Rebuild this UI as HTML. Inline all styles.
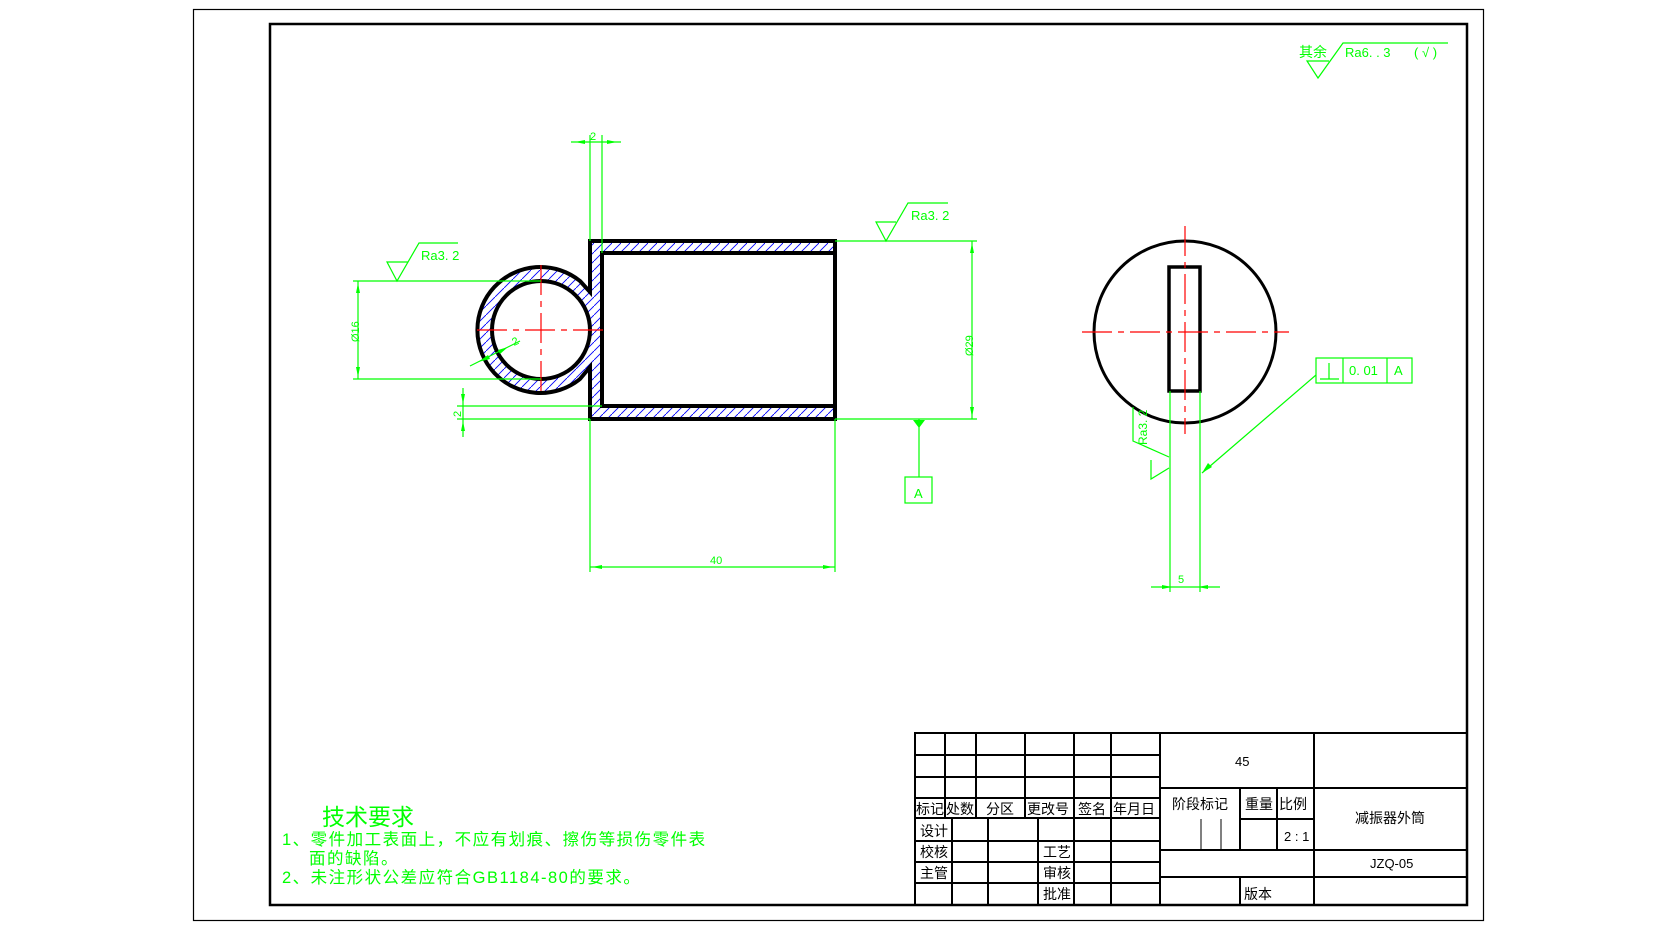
<!DOCTYPE html>
<html><head><meta charset="utf-8"><style>
html,body{margin:0;padding:0;background:#fff;}
svg{display:block;}
text{font-family:"Liberation Sans","Noto Sans CJK SC",sans-serif;}
</style></head><body>
<svg width="1677" height="930" viewBox="0 0 1677 930" xmlns="http://www.w3.org/2000/svg">
<defs>
<pattern id="h" patternUnits="userSpaceOnUse" width="9" height="9">
<line x1="0" y1="9" x2="9" y2="0" stroke="#0000ff" stroke-width="0.9"/>
</pattern>
</defs>
<rect x="193.5" y="9.5" width="1290" height="911" fill="none" stroke="#000" stroke-width="1.2"/>
<rect x="270" y="24" width="1197" height="881" fill="none" stroke="#000" stroke-width="2.5"/>

<!-- LEFT VIEW -->
<path fill="url(#h)" fill-rule="evenodd" d="M590,241 L835,241 L835,419 L590,419 L590,367 L580,379 A63,63 0 1 1 580,281 L590,292 Z M602,253 L835,253 L835,406 L602,406 Z M541,281 A49,49 0 1 0 541,379 A49,49 0 1 0 541,281 Z"/>
<g fill="none" stroke="#000" stroke-width="4">
<path d="M590,241 L835,241 L835,419 L590,419 L590,367 L580,379 A63,63 0 1 1 580,281 L590,292 Z"/>
<circle cx="541" cy="330" r="49"/>
<path d="M835,253 L602,253 L602,406 L835,406"/>
</g>
<g stroke="#ff0000" stroke-width="1.2" stroke-dasharray="30,6,6,6">
<line x1="541" y1="265" x2="541" y2="393"/>
<line x1="477" y1="330" x2="605" y2="330"/>
</g>
<g stroke="#00ff00" stroke-width="1.2" fill="none">
<line x1="590" y1="135" x2="590" y2="241"/><line x1="602" y1="135" x2="602" y2="253"/>
<line x1="571" y1="142" x2="621" y2="142"/>
<line x1="353" y1="281" x2="541" y2="281"/><line x1="353" y1="379" x2="541" y2="379"/>
<line x1="358" y1="281" x2="358" y2="379"/>
<polyline points="408,262 387,262 397,281 419,243 458,243"/>
<line x1="457" y1="406" x2="602" y2="406"/><line x1="457" y1="419" x2="590" y2="419"/>
<line x1="463" y1="388" x2="463" y2="437"/>
<line x1="470" y1="366" x2="520" y2="341"/>
<line x1="835" y1="241" x2="977" y2="241"/><line x1="835" y1="419" x2="977" y2="419"/>
<line x1="972" y1="241" x2="972" y2="419"/>
<polyline points="896,222 876,222 886,241 908,203 948,203"/>
<line x1="919" y1="419" x2="919" y2="477"/>
<rect x="905" y="477" width="27" height="26"/>
<line x1="590" y1="419" x2="590" y2="572"/><line x1="835" y1="419" x2="835" y2="572"/>
<line x1="590" y1="567" x2="835" y2="567"/>
</g>
<g fill="#00ff00">
<polygon points="575,142 585,140 585,144"/><polygon points="617,142 607,140 607,144"/>
<polygon points="358,283 356,293 360,293"/><polygon points="358,377 356,367 360,367"/>
<polygon points="463,404 461,394 465,394"/><polygon points="463,421 461,431 465,431"/>
<polygon points="972,243 970,253 974,253"/><polygon points="972,417 970,407 974,407"/>
<polygon points="913,420 925,420 919,428"/>
<polygon points="592,567 602,565 602,569"/><polygon points="833,567 823,565 823,569"/>
<polygon points="478,362 488,355 490,359"/><polygon points="508,347 498,350 500,354"/>
</g>
<g fill="#00ff00" font-family="Liberation Mono" font-size="12">
<text x="590" y="140" font-size="11">2</text>
<text x="421" y="260" font-size="13">Ra3. 2</text>
<text x="911" y="220" font-size="13">Ra3. 2</text>
<text x="710" y="564" font-size="11">40</text>
<text x="914" y="498" font-size="13">A</text>
<text transform="translate(359,342) rotate(-90)" font-size="11">Ø16</text>
<text transform="translate(973,356) rotate(-90)" font-size="11">Ø29</text>
<text transform="translate(461,417) rotate(-90)" font-size="11">2</text>
<text transform="translate(514,346) rotate(-25)" font-size="11">2</text>
</g>

<!-- RIGHT VIEW -->
<g transform="translate(-4,-1)">
<circle cx="1189" cy="333" r="91" fill="none" stroke="#000" stroke-width="3"/>
<rect x="1173" y="268" width="31" height="124" fill="none" stroke="#000" stroke-width="3.5"/>
<g stroke="#ff0000" stroke-width="1.2" stroke-dasharray="30,6,6,6">
<line x1="1086" y1="333" x2="1293" y2="333"/>
<line x1="1189" y1="227" x2="1189" y2="435"/>
</g>
<g stroke="#00ff00" stroke-width="1.2" fill="none">
<line x1="1174" y1="392" x2="1174" y2="593"/><line x1="1204" y1="392" x2="1204" y2="593"/>
<line x1="1155" y1="588" x2="1224" y2="588"/>
<polyline points="1137,408 1137,442 1173,458"/>
<polyline points="1173,469 1155,480 1155,461"/>
<line x1="1320" y1="376" x2="1206" y2="474"/>
<rect x="1320" y="359" width="96" height="25"/>
<line x1="1347" y1="359" x2="1347" y2="384"/><line x1="1391" y1="359" x2="1391" y2="384"/>
<line x1="1324" y1="380" x2="1343" y2="380"/><line x1="1333" y1="364" x2="1333" y2="380"/>
<polyline points="1333,62 1311,62 1322,79 1347,44 1452,44"/>
</g>
<g fill="#00ff00">
<polygon points="1176,588 1166,586 1166,590"/><polygon points="1202,588 1212,586 1212,590"/>
<polygon points="1206,474 1212,464 1216,468"/>
</g>
<g fill="#00ff00" font-family="Liberation Mono" font-size="13">
<text x="1182" y="584" font-size="11">5</text>
<text transform="translate(1151,446) rotate(-90)" font-size="12">Ra3. 2</text>
<text x="1353" y="376">0. 01</text>
<text x="1398" y="376">A</text>
<text x="1303" y="58" font-size="14" font-family="Liberation Sans, Noto Sans CJK SC">其余</text>
<text x="1349" y="58">Ra6. . 3</text>
<text x="1418" y="58">( √ )</text>
</g>
</g>

<g fill="#00ff00">
<text x="322" y="825" font-size="23">技术要求</text>
<text x="282" y="845" font-size="16.5" letter-spacing="1.5">1、零件加工表面上，不应有划痕、擦伤等损伤零件表</text>
<text x="309" y="864" font-size="16.5" letter-spacing="1.5">面的缺陷。</text>
<text x="282" y="883" font-size="16.5" letter-spacing="1.5">2、未注形状公差应符合GB1184-80的要求。</text>
</g>

<g stroke="#000" stroke-width="2" fill="none">
<rect x="915" y="733" width="552" height="172"/>
<line x1="915" y1="755" x2="1160" y2="755"/>
<line x1="915" y1="777" x2="1160" y2="777"/>
<line x1="915" y1="798" x2="1160" y2="798"/>
<line x1="915" y1="818" x2="1160" y2="818"/>
<line x1="915" y1="841" x2="1160" y2="841"/>
<line x1="915" y1="862" x2="1160" y2="862"/>
<line x1="915" y1="883" x2="1160" y2="883"/>
<line x1="945" y1="733" x2="945" y2="818"/>
<line x1="976" y1="733" x2="976" y2="818"/>
<line x1="1025" y1="733" x2="1025" y2="818"/>
<line x1="952" y1="818" x2="952" y2="905"/>
<line x1="988" y1="818" x2="988" y2="905"/>
<line x1="1038" y1="818" x2="1038" y2="905"/>
<line x1="1074" y1="733" x2="1074" y2="905"/>
<line x1="1111" y1="733" x2="1111" y2="905"/>
<line x1="1160" y1="733" x2="1160" y2="905"/>
<line x1="1160" y1="788" x2="1467" y2="788"/>
<line x1="1240" y1="819" x2="1314" y2="819"/>
<line x1="1160" y1="850" x2="1467" y2="850"/>
<line x1="1160" y1="877" x2="1467" y2="877"/>
<line x1="1314" y1="733" x2="1314" y2="905"/>
<line x1="1240" y1="788" x2="1240" y2="850"/>
<line x1="1277" y1="788" x2="1277" y2="850"/>
<line x1="1240" y1="877" x2="1240" y2="905"/>
<line x1="1201" y1="819" x2="1201" y2="850" stroke-width="1"/>
<line x1="1221" y1="819" x2="1221" y2="850" stroke-width="1"/>
</g>
<g fill="#000" font-size="14">
<text x="916" y="814">标记</text><text x="946" y="814">处数</text>
<text x="986" y="814">分区</text><text x="1027" y="814">更改号</text>
<text x="1078" y="814">签名</text><text x="1113" y="814">年月日</text>
<text x="920" y="836">设计</text><text x="920" y="857">校核</text><text x="920" y="878">主管</text>
<text x="1043" y="857">工艺</text><text x="1043" y="878">审核</text><text x="1043" y="899">批准</text>
<text x="1172" y="809">阶段标记</text><text x="1245" y="809">重量</text><text x="1279" y="809">比例</text>
<text x="1284" y="841" font-size="13">2 : 1</text>
<text x="1235" y="766" font-size="13">45</text>
<text x="1355" y="823">减振器外筒</text>
<text x="1370" y="868" font-size="13">JZQ-05</text>
<text x="1244" y="899">版本</text>
</g>
</svg>
</body></html>
